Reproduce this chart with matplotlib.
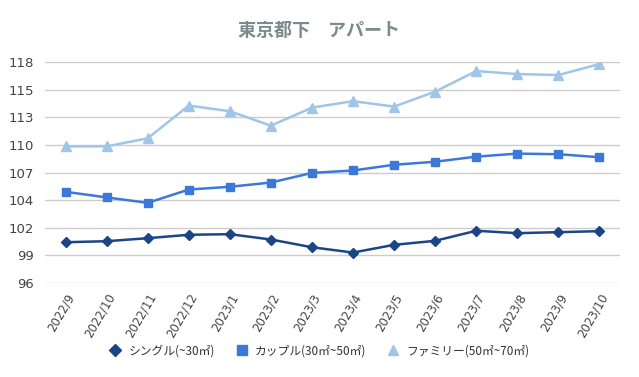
import matplotlib
matplotlib.use('Agg')
import matplotlib.pyplot as plt
from matplotlib.lines import Line2D
import numpy as np

plt.rcParams['font.family'] = ['Noto Sans CJK JP', 'DejaVu Sans']

# データ
months = ['2022/9', '2022/10', '2022/11', '2022/12', '2023/1', '2023/2', '2023/3',
          '2023/4', '2023/5', '2023/6', '2023/7', '2023/8', '2023/9', '2023/10']
single = [100.06, 100.16, 100.46, 100.8, 100.86, 100.33, 99.56,
          99.03, 99.8, 100.2, 101.2, 100.96, 101.06, 101.16]
couple = [105.08, 104.52, 103.98, 105.3, 105.58, 106.0, 106.96,
          107.2, 107.77, 108.07, 108.58, 108.88, 108.82, 108.52]
family = [109.6, 109.6, 110.4, 113.66, 113.1, 111.66, 113.46,
          114.1, 113.56, 115.05, 117.1, 116.8, 116.7, 117.8]

labels = ['シングル(~30㎡)', 'カップル(30㎡~50㎡)', 'ファミリー(50㎡~70㎡)']
colors = ['#1c4587', '#3c78d8', '#9fc5e8']
markers = ['D', 's', '^']
sizes = [5, 5.5, 6.5]

yticks = np.linspace(96, 118, 9)
ytick_labels = ['96', '99', '102', '104', '107', '110', '113', '115', '118']

fig = plt.figure(figsize=(6.39, 3.77), dpi=100)
ax = fig.add_axes([45 / 639, 1 - 283 / 377, 575 / 639, 221 / 377])

x = np.arange(len(months))
for ys, c, m, ms in zip([single, couple, family], colors, markers, sizes):
    ax.plot(x, ys, '-', marker=m, color=c, lw=1.8, ms=ms)

ax.set_xlim(-0.5, len(months) - 0.5)
ax.set_ylim(96, 118)
ax.set_yticks(yticks)
ax.set_yticklabels(ytick_labels, fontsize=9.5, color='#444444', family='DejaVu Sans')
ax.set_xticks(x)
ax.set_xticklabels(months, rotation=60, ha='right', rotation_mode='anchor',
                   fontsize=8.5, color='#444444', family='DejaVu Sans')
ax.tick_params(length=0, pad=8)
ax.tick_params(axis='x', pad=6)
ax.grid(axis='y', color='#cccccc', lw=1)
ax.set_axisbelow(True)
for s in ax.spines.values():
    s.set_visible(False)

fig.suptitle('東京都下　アパート', x=0.5, y=1 - 30 / 377, va='center',
             fontsize=13, fontweight='bold', color='#7b8a8e')

handles = [Line2D([], [], ls='none', marker=m, color=c, ms=ms + 1)
           for c, m, ms in zip(colors, markers, sizes)]
fig.legend(handles, labels, loc='center', bbox_to_anchor=(0.5, 1 - 351 / 377), ncol=3,
           frameon=False, fontsize=8.5, handlelength=1.0, columnspacing=1.8,
           handletextpad=0.6, labelcolor='#333333')

fig.savefig('out.png', dpi=100)
